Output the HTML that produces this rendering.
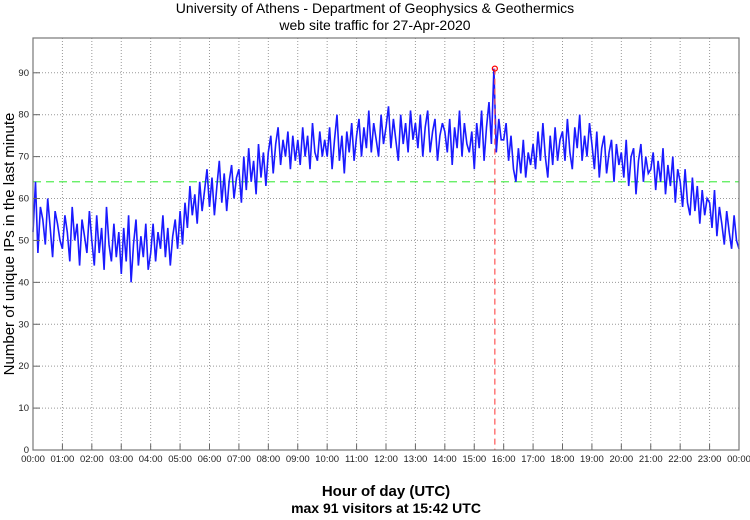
<!DOCTYPE html>
<html><head><meta charset="utf-8"><style>
body{margin:0;background:#fff;width:750px;height:515px;overflow:hidden;font-family:"Liberation Sans",sans-serif}
</style></head><body>
<svg id="chart" width="750" height="515" xmlns="http://www.w3.org/2000/svg" font-family="Liberation Sans, sans-serif">
<text x="375" y="13" text-anchor="middle" font-size="14">University of Athens - Department of Geophysics &amp; Geothermics</text>
<text x="375" y="30" text-anchor="middle" font-size="14">web site traffic for 27-Apr-2020</text>
<text transform="translate(14,244) rotate(-90)" text-anchor="middle" font-size="15">Number of unique IPs in the last minute</text>
<text x="386" y="496" text-anchor="middle" font-size="15" font-weight="bold">Hour of day (UTC)</text>
<text x="386" y="513" text-anchor="middle" font-size="14" font-weight="bold">max 91 visitors at 15:42 UTC</text>
<g id="grid"></g><g id="series"></g><g id="axes"></g>
</svg>
<script>
const hourLabels=["00:00","01:00","02:00","03:00","04:00","05:00","06:00","07:00","08:00","09:00","10:00","11:00","12:00","13:00","14:00","15:00","16:00","17:00","18:00","19:00","20:00","21:00","22:00","23:00","00:00"];
const yTicks=[0,10,20,30,40,50,60,70,80,90];
const threshold=64;
const maxValue=91;
const maxMinute=942;
// 5-minute samples of unique IPs
const visitors=[
52,64,47,58,55,49,60,53,46,57,54,50,
48,56,52,45,58,50,54,44,55,51,47,57,
50,44,56,47,53,43,58,49,45,54,46,52,
42,53,45,56,40,49,55,44,51,46,54,43,
47,54,45,52,48,56,46,53,44,51,55,48,
57,49,59,53,63,56,61,54,64,57,62,67,
58,65,56,63,69,59,66,57,64,68,60,65,
67,59,70,62,72,64,69,61,73,65,71,63,
71,75,66,73,77,68,74,70,76,67,75,69,
74,68,77,70,75,67,78,71,69,76,70,74,
70,77,67,74,80,69,75,66,76,71,78,69,
75,79,70,77,72,81,71,78,74,70,80,73,
77,82,72,79,74,69,80,73,78,71,81,74,
78,72,80,70,77,81,71,76,79,69,75,78,
76,71,79,68,77,72,81,70,78,73,71,76,
67,78,72,81,69,77,83,73,91,71,79,74,
74,78,69,75,67,64,72,66,74,65,71,68,
73,67,76,69,78,70,65,75,68,77,69,74,
76,69,79,71,67,77,72,80,69,75,70,78,
73,67,76,65,72,75,66,71,74,64,73,68,
71,65,74,63,70,72,61,69,73,64,70,66,
67,71,62,69,64,72,61,68,63,70,59,67,
64,58,67,59,56,65,57,63,54,62,56,60,
59,53,62,51,58,54,49,57,52,48,56,50,
48];
const L=33,R=739,T=38,B=450,YMAX=98.3;
const xMin=m=>L+(R-L)*m/1440;
const y=v=>B-(B-T)*v/YMAX;
const NS="http://www.w3.org/2000/svg";
function mk(tag,attrs,parent){const e=document.createElementNS(NS,tag);for(const k in attrs)e.setAttribute(k,attrs[k]);parent.appendChild(e);return e;}
const grid=document.getElementById('grid'),axes=document.getElementById('axes'),series=document.getElementById('series');
hourLabels.forEach((lab,i)=>{const x=xMin(i*60);
 if(i>0&&i<24){const g=mk('line',{x1:x,x2:x,y1:T,y2:B,stroke:'#999','stroke-dasharray':'1,2','stroke-width':1},grid);
 
 }
 const tk=mk('line',{x1:x,x2:x,y1:B,y2:B-6,stroke:'#666'},axes);
 
 
 const t=mk('text',{x:x,y:462,'text-anchor':'middle','font-size':'9.5',fill:'#222'},axes);t.textContent=lab;
 
 
});
yTicks.forEach(v=>{const yy=y(v);
 if(v>0){const g=mk('line',{x1:L,x2:R,y1:yy,y2:yy,stroke:'#999','stroke-dasharray':'1,2'},grid);
 
 }
 const tk=mk('line',{x1:L,x2:L+7,y1:yy,y2:yy,stroke:'#666'},axes);
 
 
 const t=mk('text',{x:L-4,y:yy+3,'text-anchor':'end','font-size':'9.5',fill:'#222'},axes);t.textContent=v;
 
 
});
const fr=mk('rect',{x:L,y:T,width:R-L,height:B-T,fill:'none',stroke:'#777','stroke-width':1.2},axes);


const th=mk('line',{x1:L,x2:R,y1:y(threshold),y2:y(threshold),stroke:'#55ee55','stroke-width':1.2,'stroke-dasharray':'8,5'},series);


const step=1440/(visitors.length-1);
const pts=visitors.map((v,i)=>xMin(i*step).toFixed(1)+','+y(v).toFixed(1)).join(' ');
const pl=mk('polyline',{points:pts,fill:'none',stroke:'#1a1aff','stroke-width':1.6},series);


const mx=xMin(maxMinute);
const vl=mk('line',{x1:mx,x2:mx,y1:y(maxValue),y2:B,stroke:'#ff5555','stroke-width':1.2,'stroke-dasharray':'6,4'},series);


const c=mk('circle',{cx:mx,cy:y(maxValue),r:2.5,fill:'none',stroke:'#ff0000','stroke-width':1.2},series);


</script>
</body></html>
